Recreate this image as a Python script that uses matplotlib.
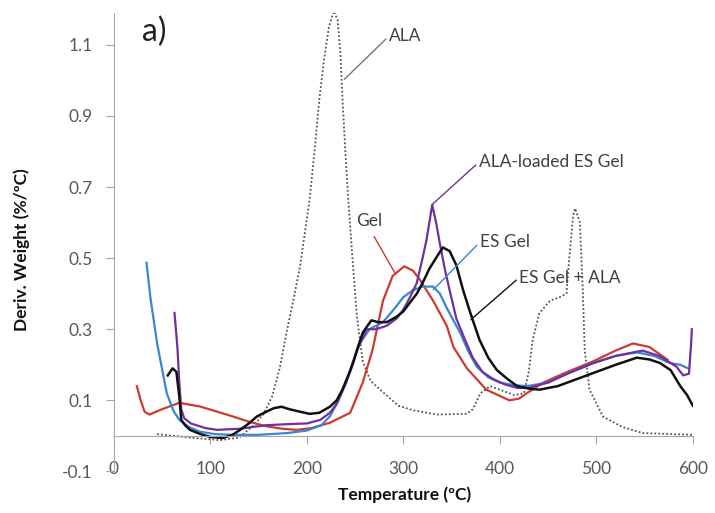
import matplotlib
matplotlib.use("Agg")
import matplotlib.pyplot as plt
import numpy as np

plt.rcParams['font.family'] = ['Lato', 'DejaVu Sans']

# --- données (DTG) ---
ala_x = [45, 80, 110, 130, 145, 155, 164, 172, 179, 186, 193, 198, 203, 208, 213, 218, 223, 228,
         232, 235, 237, 240, 243, 248, 252, 258, 266, 276, 295, 310, 335, 366, 372, 380, 390, 400,
         415, 425, 430, 434, 441, 452, 462, 469, 472, 476, 478, 483, 486, 488, 493, 507, 527, 548, 600]
ala_y = [0.005, -0.005, -0.012, -0.005, 0.03, 0.06, 0.11, 0.19, 0.29, 0.38, 0.476, 0.57, 0.665, 0.80,
         0.946, 1.06, 1.15, 1.195, 1.17, 1.07, 0.95, 0.80, 0.665, 0.476, 0.335, 0.21, 0.155, 0.13,
         0.085, 0.072, 0.06, 0.062, 0.075, 0.12, 0.14, 0.13, 0.115, 0.12, 0.18, 0.27, 0.345, 0.38,
         0.39, 0.40, 0.50, 0.62, 0.64, 0.60, 0.41, 0.24, 0.13, 0.054, 0.025, 0.008, 0.003]

gel_x = [24, 28, 32, 37, 50, 68, 89, 105, 123, 140, 158, 175, 190, 205, 224, 245, 258, 268, 279,
         289, 301, 310, 317, 331, 345, 352, 366, 386, 410, 420, 428, 445, 470, 497, 520, 538, 555, 574]
gel_y = [0.14, 0.10, 0.068, 0.06, 0.075, 0.093, 0.083, 0.07, 0.055, 0.04, 0.027, 0.02, 0.017, 0.022,
         0.037, 0.065, 0.15, 0.24, 0.38, 0.45, 0.477, 0.465, 0.44, 0.38, 0.31, 0.25, 0.19, 0.13, 0.10,
         0.105, 0.12, 0.15, 0.18, 0.21, 0.24, 0.26, 0.25, 0.214]

es_x = [34, 38, 45, 55, 62, 68, 78, 89, 105, 123, 150, 180, 200, 215, 224, 233, 241, 248, 255, 265,
        279, 290, 300, 310, 320, 331, 338, 345, 352, 359, 367, 376, 388, 400, 414, 428, 450, 470, 497,
        520, 542, 560, 576, 587, 595]
es_y = [0.487, 0.39, 0.26, 0.12, 0.07, 0.045, 0.025, 0.012, 0.005, 0.003, 0.003, 0.008, 0.015, 0.03,
        0.055, 0.10, 0.15, 0.21, 0.26, 0.30, 0.32, 0.355, 0.39, 0.41, 0.42, 0.42, 0.40, 0.36, 0.325,
        0.29, 0.24, 0.195, 0.165, 0.15, 0.143, 0.14, 0.15, 0.175, 0.205, 0.225, 0.235, 0.225, 0.205,
        0.20, 0.19]

load_x = [63, 66, 68, 70, 73, 80, 95, 107, 130, 158, 180, 200, 214, 224, 231, 237, 245, 252, 262,
          272, 283, 293, 300, 307, 314, 320, 324, 330, 334, 338, 343, 348, 355, 364, 372, 382, 393,
          405, 418, 430, 450, 470, 497, 520, 548, 565, 583, 590, 596, 598, 599]
load_y = [0.346, 0.25, 0.15, 0.075, 0.05, 0.035, 0.022, 0.017, 0.02, 0.03, 0.033, 0.035, 0.045, 0.065,
          0.09, 0.13, 0.18, 0.24, 0.30, 0.30, 0.31, 0.33, 0.355, 0.39, 0.43, 0.50, 0.55, 0.65, 0.60,
          0.54, 0.47, 0.41, 0.33, 0.27, 0.22, 0.18, 0.16, 0.145, 0.135, 0.135, 0.15, 0.175, 0.205,
          0.225, 0.24, 0.225, 0.195, 0.17, 0.175, 0.25, 0.30]

esala_x = [56, 61, 65, 68, 70, 74, 79, 90, 100, 113, 123, 131, 141, 148, 158, 166, 174, 182, 193,
           203, 213, 224, 231, 237, 243, 248, 253, 258, 263, 267, 274, 283, 293, 300, 307, 314, 320,
           327, 335, 341, 348, 355, 362, 369, 374, 379, 388, 397, 408, 418, 430, 441, 460, 480, 497,
           520, 542, 555, 566, 577, 587, 594, 600]
esala_y = [0.17, 0.19, 0.18, 0.11, 0.045, 0.03, 0.017, 0.005, -0.003, -0.006, 0.003, 0.017, 0.037,
           0.054, 0.068, 0.078, 0.082, 0.075, 0.068, 0.062, 0.065, 0.082, 0.10, 0.13, 0.17, 0.205,
           0.25, 0.29, 0.31, 0.325, 0.32, 0.32, 0.335, 0.35, 0.375, 0.40, 0.43, 0.47, 0.505, 0.53,
           0.52, 0.48, 0.41, 0.35, 0.31, 0.27, 0.22, 0.185, 0.16, 0.14, 0.133, 0.13, 0.14, 0.16,
           0.177, 0.20, 0.22, 0.215, 0.205, 0.185, 0.14, 0.115, 0.085]

xticks = [0, 100, 200, 300, 400, 500, 600]
yticks = [-0.1, 0.1, 0.3, 0.5, 0.7, 0.9, 1.1]
ytick_labels = ['-0.1', '0.1', '0.3', '0.5', '0.7', '0.9', '1.1']

c_red = '#cc3b33'
c_blue = '#3a86d0'
c_purple = '#7030a0'
c_black = '#111111'
c_ala = '#555555'
c_axis = '#a6a6a6'
c_text = '#404040'

fig = plt.figure(figsize=(7.15, 5.13), dpi=100)
ax = fig.add_axes([0.159, 0.081, 0.81, 0.894])

ax.plot(ala_x, ala_y, color=c_ala, lw=1.3, linestyle=(0, (1, 1.2)))
ax.plot(gel_x, gel_y, color=c_red, lw=1.6)
ax.plot(es_x, es_y, color=c_blue, lw=1.6)
ax.plot(load_x, load_y, color=c_purple, lw=1.6)
ax.plot(esala_x, esala_y, color=c_black, lw=1.8)

# étiquettes avec traits de rappel
def label(txt, xy, xytext, col):
    ax.annotate(txt, xy=xy, xytext=xytext, color=c_text, fontsize=12.5, va='center', ha='left',
                arrowprops=dict(arrowstyle='-', color=col, lw=1.0, shrinkA=0, shrinkB=0,
                                relpos=(0, 0.5)))

label('ALA', (239, 1.003), (285, 1.124), '#777777')
ax.text(251, 0.605, 'Gel', color=c_text, fontsize=12.5, va='center', ha='left')
ax.plot([270, 291], [0.56, 0.46], color=c_red, lw=1.0)
label('ES Gel', (331, 0.411), (379, 0.544), c_blue)
label('ES Gel + ALA', (370, 0.327), (420, 0.445), c_black)
label('ALA-loaded ES Gel', (330, 0.651), (378, 0.769), c_purple)

ax.text(29, 1.135, 'a)', fontsize=23, color='#222222', va='center', ha='left')

ax.set_xlim(0, 600)
ax.set_ylim(-0.1, 1.19)
ax.set_xticks(xticks)
ax.set_yticks(yticks)
ax.set_yticklabels(ytick_labels)

for s in ['top', 'right']:
    ax.spines[s].set_visible(False)
ax.spines['bottom'].set_position(('data', 0))
ax.spines['bottom'].set_color(c_axis)
ax.spines['left'].set_color(c_axis)

ax.tick_params(axis='both', colors=c_axis, labelcolor='#595959', labelsize=12.5, length=6,
               direction='out')
ax.tick_params(axis='x', pad=12)
ax.tick_params(axis='y', pad=9)

fig.text(405 / 715, 1 - 495 / 513, 'Temperature (ºC)', fontsize=12.5, fontweight='bold',
         ha='center', va='center', color='#111111')
fig.text(22 / 715, 1 - 250 / 513, 'Deriv. Weight (%/ºC)', fontsize=12.5, fontweight='bold',
         ha='center', va='center', rotation=90, color='#111111')

fig.savefig('out.png', dpi=100)
